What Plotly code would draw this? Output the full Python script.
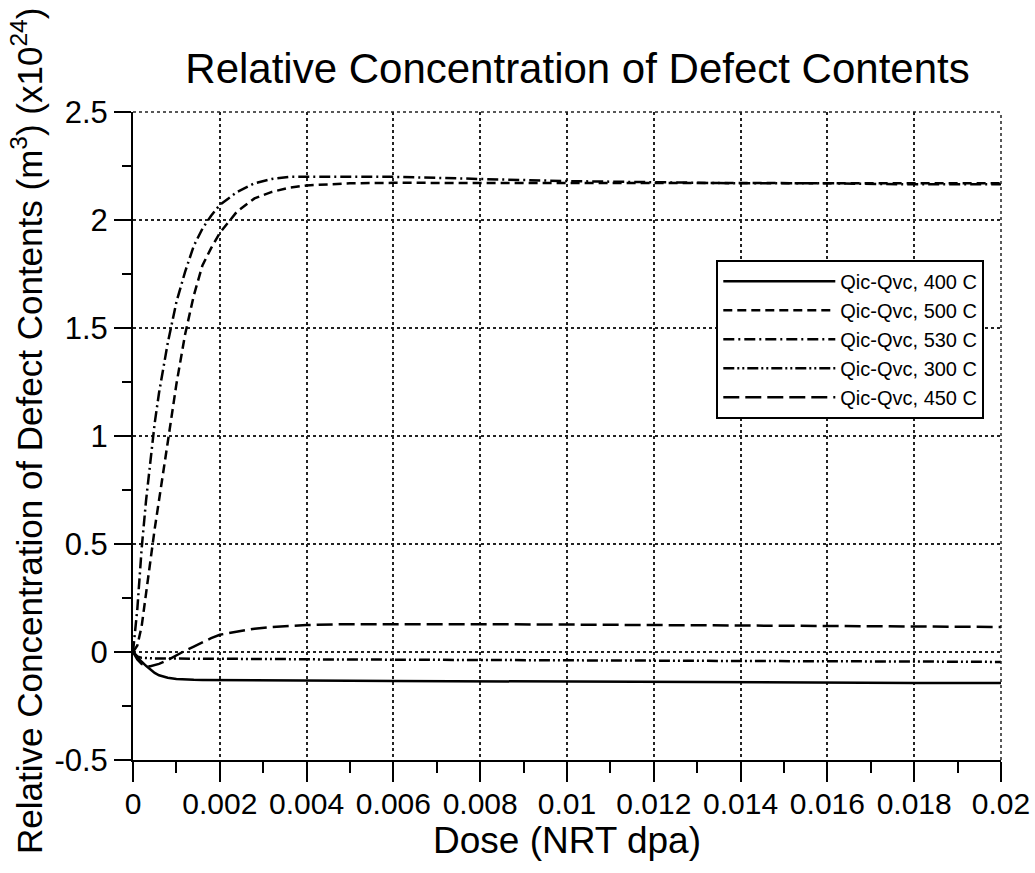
import plotly.graph_objects as go

dose = [0, 0.0001, 0.0002, 0.0003, 0.0004, 0.0005, 0.0006, 0.0008, 0.001, 0.0012,
        0.0014, 0.0016, 0.0018, 0.002, 0.0024, 0.0028, 0.0032, 0.0036, 0.004, 0.005,
        0.006, 0.007, 0.008, 0.01, 0.012, 0.014, 0.016, 0.018, 0.02]

q400 = [0, -0.025, -0.045, -0.064, -0.08, -0.097, -0.108, -0.119, -0.125, -0.128,
        -0.129, -0.13, -0.13, -0.131, -0.131, -0.132, -0.132, -0.133, -0.133, -0.133,
        -0.134, -0.135, -0.136, -0.137, -0.139, -0.14, -0.142, -0.143, -0.144]

q500 = [0, 0.03, 0.12, 0.26, 0.42, 0.57, 0.71, 0.97, 1.24, 1.47,
        1.65, 1.79, 1.87, 1.94, 2.04, 2.1, 2.13, 2.15, 2.16, 2.17,
        2.172, 2.172, 2.172, 2.171, 2.17, 2.17, 2.17, 2.17, 2.17]

q530 = [0, 0.2, 0.48, 0.7, 0.88, 1.06, 1.2, 1.43, 1.62, 1.76,
        1.88, 1.96, 2.02, 2.07, 2.13, 2.17, 2.19, 2.2, 2.2, 2.2,
        2.2, 2.195, 2.19, 2.18, 2.175, 2.17, 2.17, 2.165, 2.165]

q300 = [0, -0.02, -0.027, -0.029, -0.03, -0.03, -0.03, -0.03, -0.03, -0.03,
        -0.031, -0.031, -0.031, -0.031, -0.032, -0.032, -0.033, -0.033, -0.034, -0.035,
        -0.036, -0.036, -0.037, -0.038, -0.04, -0.041, -0.043, -0.044, -0.046]

q450 = [0, -0.035, -0.055, -0.065, -0.066, -0.062, -0.055, -0.037, -0.015, 0.006,
        0.025, 0.045, 0.064, 0.08, 0.095, 0.108, 0.116, 0.121, 0.125, 0.129,
        0.13, 0.13, 0.129, 0.127, 0.125, 0.123, 0.121, 0.119, 0.116]

series_names = ["Qic-Qvc, 400 C", "Qic-Qvc, 500 C", "Qic-Qvc, 530 C",
                "Qic-Qvc, 300 C", "Qic-Qvc, 450 C"]
series_vals = [q400, q500, q530, q300, q450]
dashes = ["solid", "9px,5px", "11px,4px,2px,4px", "11px,3px,2px,3px,2px,3px", "16px,6px"]

y_tickvals = [-0.5, 0, 0.5, 1, 1.5, 2, 2.5]
y_ticktext = ["-0.5", "0", "0.5", "1", "1.5", "2", "2.5"]

FONT = "Liberation Sans, Arial, Helvetica, sans-serif"

fig = go.Figure()
for name, vals, d in zip(series_names, series_vals, dashes):
    fig.add_trace(go.Scatter(x=dose, y=vals, mode="lines", name=name,
                             line=dict(color="black", width=2.5, dash=d)))

fig.update_layout(
    width=1035, height=873,
    margin=dict(l=133, r=34, t=112, b=113),
    paper_bgcolor="white", plot_bgcolor="white",
    font=dict(family=FONT, color="black"),
    title=dict(text="Relative Concentration of Defect Contents",
               font=dict(size=42, family=FONT, color="black"),
               x=0.558, xref="container", xanchor="center",
               y=0.922, yref="container", yanchor="middle"),
    showlegend=True,
    legend=dict(x=0.672, y=0.772, xanchor="left", yanchor="top",
                bgcolor="white", bordercolor="black", borderwidth=2,
                font=dict(size=20, family=FONT, color="black"),
                itemwidth=112, tracegroupgap=0),
)

fig.update_xaxes(
    range=[0, 0.02], tickmode="linear", tick0=0, dtick=0.002,
    automargin=False,
    showline=True, linecolor="black", linewidth=2,
    ticks="outside", ticklen=20, tickwidth=2, tickcolor="black",
    tickfont=dict(size=30, family=FONT, color="black"),
    ticklabelstandoff=-4,
    showgrid=True, gridcolor="#222", griddash="dot", gridwidth=1.5,
    zeroline=False,
    minor=dict(tickmode="linear", tick0=0, dtick=0.001, ticks="outside",
               ticklen=11, tickwidth=2, tickcolor="black", showgrid=False),
    title=dict(text="Dose (NRT dpa)", font=dict(size=37, family=FONT, color="black"),
               standoff=2),
)

fig.update_yaxes(
    range=[-0.5, 2.5], tickmode="array", tickvals=y_tickvals, ticktext=y_ticktext,
    automargin=False,
    showline=True, linecolor="black", linewidth=2,
    ticks="outside", ticklen=17, tickwidth=2, tickcolor="black",
    tickfont=dict(size=31, family=FONT, color="black"),
    showgrid=True, gridcolor="#222", griddash="dot", gridwidth=1.5,
    zeroline=False,
    minor=dict(tickmode="linear", tick0=0, dtick=0.25, ticks="outside",
               ticklen=9, tickwidth=2, tickcolor="black", showgrid=False),
)

# dotted frame on top and right (grid-style border)
fig.add_shape(type="line", xref="paper", yref="paper", x0=0, x1=1, y0=1, y1=1,
              line=dict(color="#222", width=1.5, dash="dot"))
fig.add_shape(type="line", xref="paper", yref="paper", x0=1, x1=1, y0=0, y1=1,
              line=dict(color="#222", width=1.5, dash="dot"))

fig.add_annotation(
    text="Relative Concentration of Defect Contents (m<sup>3</sup>) (x10<sup>24</sup>)",
    xref="paper", yref="paper", x=-0.122, y=0.508, xanchor="center", yanchor="middle",
    textangle=-90, showarrow=False,
    font=dict(size=35, family=FONT, color="black"),
)

fig.write_html("out.html")
